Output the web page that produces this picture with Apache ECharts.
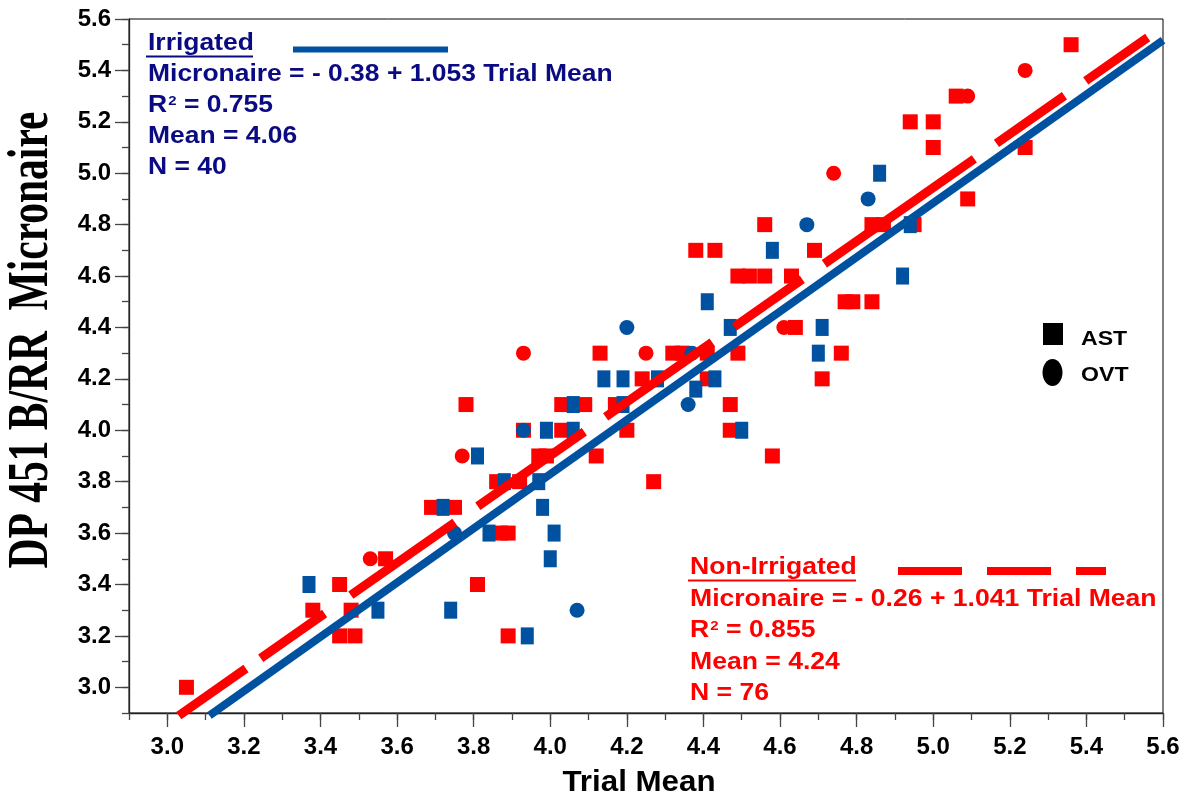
<!DOCTYPE html>
<html><head><meta charset="utf-8">
<script src="https://cdn.jsdelivr.net/npm/echarts@6/dist/echarts.min.js"></script>
<style>html,body{margin:0;padding:0;background:#fff}#c{width:1193px;height:801px}</style>
</head><body><div id="c"></div>
<script>
// ---- data ----
const tickValues = [3.0,3.2,3.4,3.6,3.8,4.0,4.2,4.4,4.6,4.8,5.0,5.2,5.4,5.6];
const nonIrrigatedAST = [[3.05,3.0],[3.38,3.3],[3.45,3.4],[3.48,3.3],[3.45,3.2],[3.49,3.2],[3.57,3.5],[3.69,3.7],[3.75,3.7],[3.81,3.4],[3.87,3.6],[3.89,3.6],[3.89,3.2],[3.78,4.1],[3.86,3.8],[3.92,3.8],[3.93,4.0],[3.97,3.9],[3.99,3.9],[4.03,4.1],[4.09,4.1],[4.03,4.0],[4.12,3.9],[4.13,4.3],[4.17,4.1],[4.20,4.0],[4.24,4.2],[4.27,3.8],[4.32,4.3],[4.345,4.3],[4.41,4.3],[4.49,4.3],[4.41,4.2],[4.47,4.1],[4.47,4.0],[4.58,3.9],[4.71,4.2],[4.76,4.3],[4.64,4.4],[4.38,4.7],[4.43,4.7],[4.49,4.6],[4.52,4.6],[4.56,4.6],[4.63,4.6],[4.56,4.8],[4.69,4.7],[4.77,4.5],[4.79,4.5],[4.84,4.5],[4.84,4.8],[4.87,4.8],[4.95,4.8],[4.94,5.2],[5.0,5.2],[5.0,5.1],[5.06,5.3],[5.09,4.9],[5.24,5.1],[5.36,5.5]];
const nonIrrigatedOVT = [[3.53,3.5],[3.77,3.9],[3.93,4.3],[4.25,4.3],[4.61,4.4],[4.74,5.0],[5.09,5.3],[5.24,5.4]];
const irrigatedAST = [[3.37,3.4],[3.55,3.3],[3.72,3.7],[3.74,3.3],[3.81,3.9],[3.84,3.6],[3.88,3.8],[3.94,3.2],[3.97,3.8],[3.98,3.7],[3.99,4.0],[4.00,3.5],[4.01,3.6],[4.06,4.1],[4.06,4.0],[4.14,4.2],[4.19,4.2],[4.19,4.1],[4.28,4.2],[4.38,4.16],[4.43,4.2],[4.41,4.5],[4.47,4.4],[4.50,4.0],[4.58,4.7],[4.70,4.3],[4.71,4.4],[4.86,5.0],[4.92,4.6],[4.94,4.8]];
const irrigatedOVT = [[3.75,3.6],[3.93,4.0],[4.07,3.3],[4.20,4.4],[4.36,4.1],[4.37,4.3],[4.67,4.8],[4.83,4.9]];
const irrigatedFit = [[3.11,2.89],[5.6,5.517]];
const nonIrrigatedFit = [[3.03,2.89],[5.56,5.528]];
const irrigatedText = ['Irrigated', 'Micronaire = - 0.38 + 1.053 Trial Mean', '0.755', 'Mean = 4.06', 'N = 40'];
const nonIrrigatedText = ['Non-Irrigated', 'Micronaire = - 0.26 + 1.041 Trial Mean', '0.855', 'Mean = 4.24', 'N = 76'];

const RED = '#FF0000', BLUE = '#0052A0', NAVY = '#0A0A82';
const SANS = '"Liberation Sans", Arial, sans-serif';

function axisPair(isX) {
  const main = {
    type: 'value', min: 2.9, max: 5.6, position: isX ? 'bottom' : 'left',
    axisLine: {show: true, lineStyle: {color: '#222', width: 1.3}},
    axisTick: {show: true, customValues: tickValues, length: 14, lineStyle: {color: '#444', width: 1.3}},
    axisLabel: {customValues: tickValues, formatter: v => v.toFixed(1), color: '#000',
      fontFamily: SANS, fontWeight: 'bold', fontSize: 24, margin: isX ? 22 : 18},
    splitLine: {show: false}
  };
  const minor = {
    type: 'value', min: 2.9, max: 5.6, interval: 0.1, position: isX ? 'bottom' : 'left', offset: 0,
    axisLine: {show: false}, axisLabel: {show: false}, splitLine: {show: false},
    axisTick: {show: true, length: 7, lineStyle: {color: '#444', width: 1.3}}
  };
  return [main, minor];
}

function textBlock(lines, color, left, firstMid, pitch, underlineW, sx) {
  const els = [];
  lines.forEach((t, i) => {
    const y = firstMid + i * pitch;
    const style = {fill: color, font: 'bold 23px ' + SANS, align: 'left', verticalAlign: 'middle'};
    if (i === 2) {
      style.text = '{a|R}{s|2}{a| = ' + t + '}';
      style.rich = {a: {fontSize: 23, fontWeight: 'bold', fontFamily: SANS, fill: color, color: color},
                    s: {fontSize: 13, fontWeight: 'bold', fontFamily: SANS, fill: color, color: color, verticalAlign: 'top', padding: [0,0,8,1]}};
    } else {
      style.text = t;
    }
    els.push({type: 'text', x: left, y: y, scaleX: sx, style: style, z: 10});
  });
  els.push({type: 'line', shape: {x1: left - 2, y1: firstMid + 12.5, x2: left - 2 + underlineW, y2: firstMid + 12.5},
            style: {stroke: color, lineWidth: 2}, z: 10});
  return els;
}

const chart = echarts.init(document.getElementById('c'), null, {renderer: 'canvas'});
const xs = axisPair(true), ys = axisPair(false);
const graphics = [].concat(
  textBlock(irrigatedText, NAVY, 148, 44, 31, 107, 1.15),
  textBlock(nonIrrigatedText, RED, 690, 568, 31.5, 168, 1.155),
  [
    {type: 'line', shape: {x1: 293, y1: 49.5, x2: 448, y2: 49.5}, style: {stroke: BLUE, lineWidth: 6}, z: 10},
    {type: 'line', shape: {x1: 898, y1: 571, x2: 1106, y2: 571}, style: {stroke: RED, lineWidth: 8, lineDash: [64, 25]}, z: 10},
    {type: 'rect', shape: {x: 1043, y: 323, width: 20, height: 22}, style: {fill: '#000'}, z: 10},
    {type: 'ellipse', shape: {cx: 1052.5, cy: 372.5, rx: 10, ry: 13.5}, style: {fill: '#000'}, z: 10},
    {type: 'text', x: 1081, y: 339, scaleX: 1.1, style: {text: 'AST', fill: '#000', font: 'bold 21px ' + SANS, verticalAlign: 'middle'}, z: 10},
    {type: 'text', x: 1081, y: 375, scaleX: 1.1, style: {text: 'OVT', fill: '#000', font: 'bold 21px ' + SANS, verticalAlign: 'middle'}, z: 10},
    {type: 'text', x: 639, y: 783, scaleX: 1.08, style: {text: 'Trial Mean', fill: '#000', font: 'bold 29px ' + SANS, align: 'center', verticalAlign: 'middle'}, z: 10},
    {type: 'text', x: 32, y: 340, rotation: Math.PI / 2, scaleX: 0.715,
     style: {text: 'DP 451 B/RR  Micronaire', fill: '#000', font: 'bold 58px "Liberation Serif", "Times New Roman", serif', align: 'center', verticalAlign: 'middle'}, z: 10}
  ]
);

chart.setOption({
  animation: false,
  backgroundColor: '#fff',
  grid: {left: 129, top: 19, right: 30, bottom: 88, show: true, borderColor: '#000', borderWidth: 1, containLabel: false},
  xAxis: xs,
  yAxis: ys,
  series: [
    {type: 'scatter', name: 'Non-Irrigated AST', data: nonIrrigatedAST, symbol: 'rect', symbolSize: [15, 15], itemStyle: {color: RED, opacity: 1}, z: 2},
    {type: 'scatter', name: 'Non-Irrigated OVT', data: nonIrrigatedOVT, symbol: 'circle', symbolSize: 15, itemStyle: {color: RED, opacity: 1}, z: 3},
    {type: 'scatter', name: 'Irrigated AST', data: irrigatedAST, symbol: 'rect', symbolSize: [13, 17], itemStyle: {color: BLUE, opacity: 1}, z: 4},
    {type: 'scatter', name: 'Irrigated OVT', data: irrigatedOVT, symbol: 'circle', symbolSize: 15, itemStyle: {color: BLUE, opacity: 1}, z: 5},
    {type: 'line', name: 'Irrigated fit', data: irrigatedFit, symbol: 'none', clip: false, lineStyle: {color: BLUE, width: 8, cap: 'butt'}, z: 6},
    {type: 'line', name: 'Non-Irrigated fit', data: nonIrrigatedFit, symbol: 'none', clip: false,
     lineStyle: {color: RED, width: 9, cap: 'butt', type: [82,18,78,32,127,28,130,26,130,27,83,27,183,27,83,26,83,400]}, z: 7}
  ],
  graphic: graphics
});
</script>
</body></html>
